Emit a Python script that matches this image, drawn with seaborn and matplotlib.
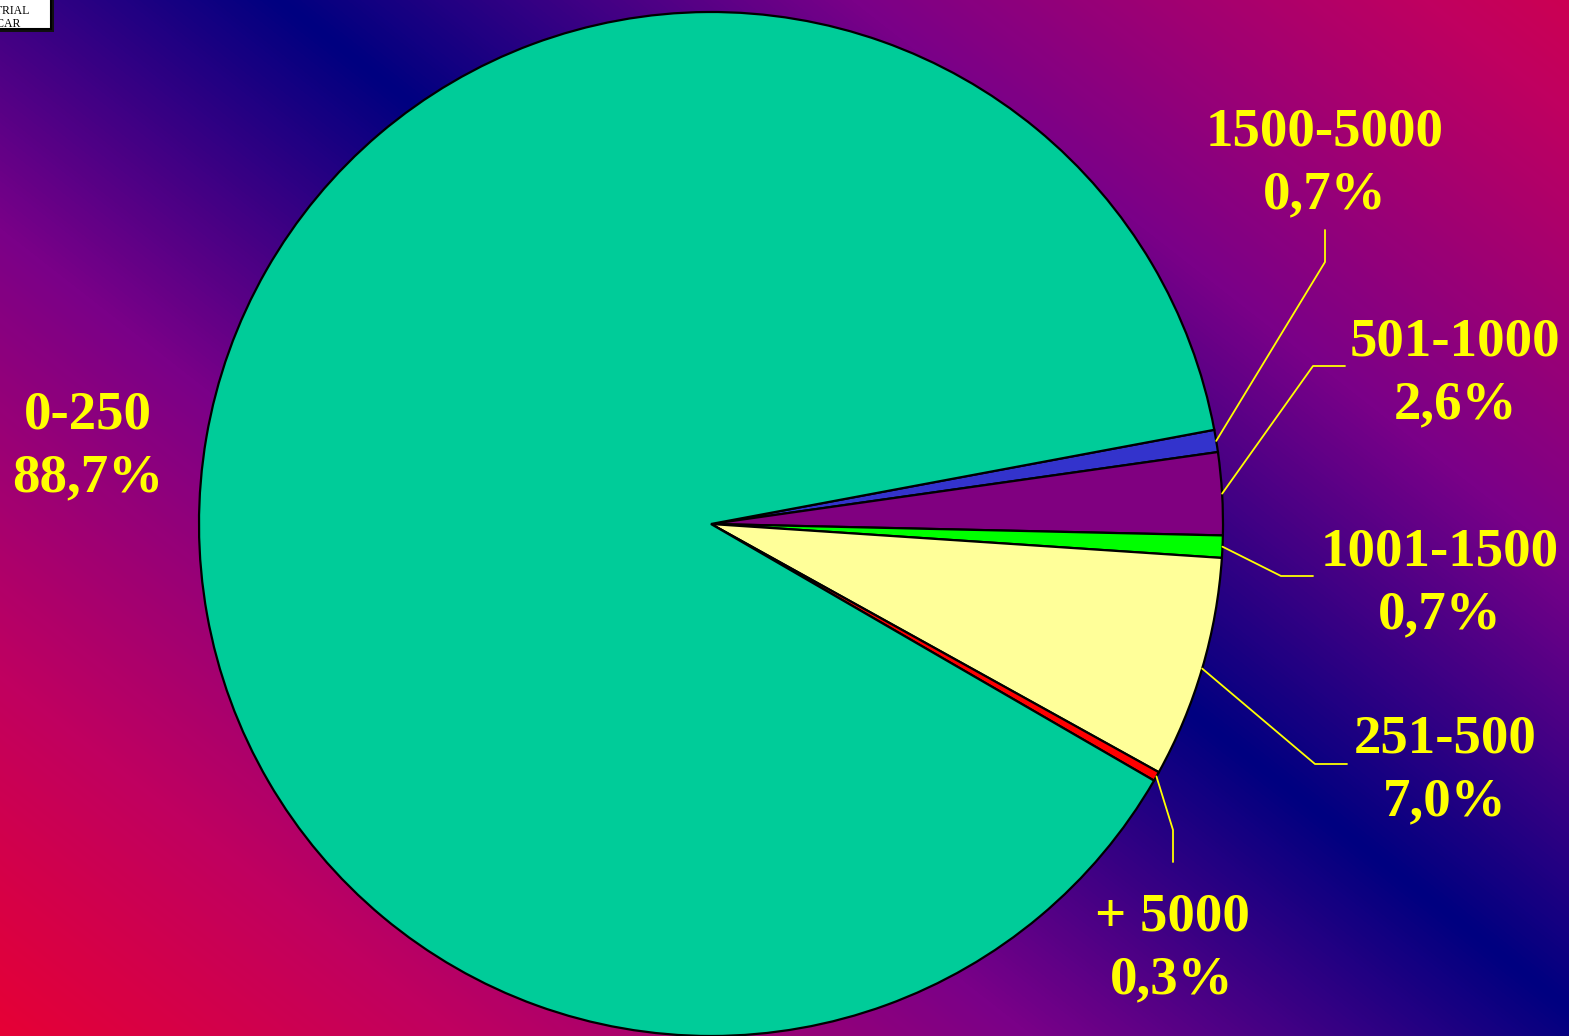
import numpy as np
import seaborn as sns
import matplotlib.pyplot as plt
from matplotlib.colors import LinearSegmentedColormap
from matplotlib.patches import Rectangle

# slices in clockwise order starting just above the 3 o'clock line
categories = ['1500-5000', '501-1000', '1001-1500', '251-500', '+ 5000', '0-250']
shares = [0.7, 2.6, 0.7, 7.0, 0.3, 88.7]
slice_colors = ['#3333CC', '#800080', '#00FF00', '#FFFF99', '#FF0000', '#00CC99']

# label layout (pixel positions, y from top): text centre, leader elbow, leader end
label_pos = {'1500-5000': (1325, 164), '501-1000': (1455, 374), '1001-1500': (1440, 584),
             '251-500': (1445, 771), '+ 5000': (1172, 949), '0-250': (88, 447)}
elbows = {'1500-5000': [(1325, 262), (1325, 230)], '501-1000': [(1313, 366), (1345, 366)],
          '1001-1500': [(1281, 576), (1313, 576)], '251-500': [(1315, 764), (1347, 764)],
          '+ 5000': [(1173, 830), (1173, 862)]}

W, H = 1569, 1036
sns.set_style('white')
plt.rcParams['font.family'] = ['Liberation Serif', 'DejaVu Serif']

fig = plt.figure(figsize=(W / 100, H / 100), dpi=100)
ax = fig.add_axes([0, 0, 1, 1])

# diagonal background gradient: navy along a diagonal, red towards two corners
xx, yy = np.meshgrid(np.arange(W), np.arange(H))
d = np.array([1100.0, 860.0])
d /= np.linalg.norm(d)
dist = np.abs((xx - 280) * d[1] - (yy - 0) * d[0])
t = np.clip(dist / 1060, 0, 1)
bg = LinearSegmentedColormap.from_list('bg', ['#000080', '#7A0088', '#C00060', '#F0002A'])
ax.imshow(bg(t), extent=(0, W, 0, H), origin='upper', zorder=0, aspect='auto')

cx, cy, r = 711, H - 524, 512
wedges, _ = ax.pie(shares, colors=slice_colors, startangle=10.6, counterclock=False,
                   center=(cx, cy), radius=r,
                   wedgeprops=dict(edgecolor='black', linewidth=1.6))
for w in wedges:
    w.set_zorder(2)

def fmt(v):
    return f'{v:.1f}'.replace('.', ',') + '%'

for w, cat, val in zip(wedges, categories, shares):
    lx, ly = label_pos[cat]
    ax.text(lx, H - ly, f'{cat}\n{fmt(val)}', ha='center', va='center', color='#FFFF00',
            fontsize=39.5, fontweight='bold', linespacing=1.35, zorder=4)
    if cat in elbows:
        mid = np.deg2rad((w.theta1 + w.theta2) / 2)
        px = [cx + r * np.cos(mid)] + [p[0] for p in elbows[cat]]
        py = [cy + r * np.sin(mid)] + [H - p[1] for p in elbows[cat]]
        ax.plot(px, py, color='#FFFF00', lw=1.3, zorder=3)

# small logo box cut off in the top-left corner
ax.add_patch(Rectangle((-10, H - 32), 64, 42, facecolor='#101010', edgecolor='none', zorder=5))
ax.add_patch(Rectangle((-10, H - 29), 61, 39, facecolor='white', edgecolor='black', lw=1.5, zorder=6))
ax.text(30, H - 11, 'INDUSTRIAL', ha='right', va='center', fontsize=8.5, color='black', zorder=7)
ax.text(21, H - 24, 'AZÚCAR', ha='right', va='center', fontsize=8.5, color='black', zorder=7)

ax.set_xlim(0, W)
ax.set_ylim(0, H)
ax.set_aspect('equal')
ax.axis('off')

fig.savefig('out.png', dpi=100)
